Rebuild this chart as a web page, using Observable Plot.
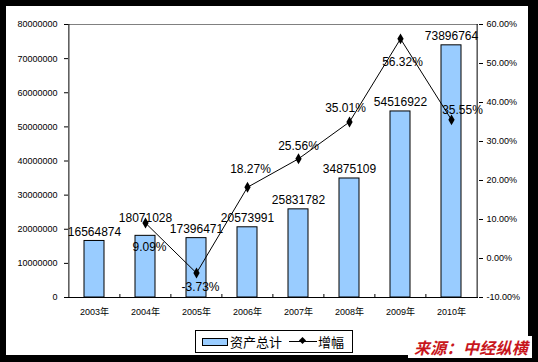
<!DOCTYPE html>
<html>
<head>
<meta charset="utf-8">
<script src="https://cdn.jsdelivr.net/npm/d3@7"></script>
<script src="https://cdn.jsdelivr.net/npm/@observablehq/plot@0.6"></script>
<style>
  html, body { margin: 0; padding: 0; background: #fff; }
  #wrap { position: relative; width: 538px; height: 362px; overflow: hidden; background: #fff;
          font-family: "Liberation Sans", Arial, "Noto Sans CJK SC", sans-serif; }
  #wrap svg { position: absolute; left: 0; top: 0; }
  #border { position: absolute; left: 0; top: 0; width: 538px; height: 362px; box-sizing: border-box;
            border-style: solid; border-color: #000; border-width: 6px 10px 7px 6px; pointer-events: none; }
  #legend { position: absolute; left: 195px; top: 330px; width: 158px; height: 23px; box-sizing: border-box;
            border: 1.5px solid #000; background: #fff; display: flex; align-items: center;
            font-family: "Noto Sans CJK SC", sans-serif; font-size: 13px; color: #000; white-space: nowrap; }
  #legend .sw { display: inline-block; width: 24px; height: 6px; background: #99CCFF; border: 1px solid #000; margin-left: 6px; margin-right: 2px; }
  #legend .ln { display: inline-block; position: relative; width: 28px; height: 1px; background: #000; margin-left: 7px; margin-right: 1px; }
  #legend .ln i { position: absolute; left: 11px; top: -3px; width: 5px; height: 5px; background: #000; transform: rotate(45deg); }
  #mark { position: absolute; left: 408px; top: 336px; width: 124px; height: 22px; background: #fff;
          font-family: "Noto Sans CJK SC", sans-serif; font-weight: bold; font-style: italic; font-size: 16px;
          color: #c8161d; line-height: 22px; padding-left: 6px; box-sizing: border-box; white-space: nowrap; letter-spacing: 0.3px; }
</style>
</head>
<body>
<div id="wrap">
  <div id="chart"></div>
  <div id="border"></div>
  <div id="legend"><span class="sw"></span>资产总计<span class="ln"><i></i></span>增幅</div>
  <div id="mark">来源：中经纵横</div>
</div>
<script>
// ---- data ----
const years = ["2003", "2004", "2005", "2006", "2007", "2008", "2009", "2010"];
const totalAssets = [16564874, 18071028, 17396471, 20573991, 25831782, 34875109, 54516922, 73896764];
const growthPct = [null, 9.09, -3.73, 18.27, 25.56, 35.01, 56.32, 35.55];
const leftTicks = [0, 10000000, 20000000, 30000000, 40000000, 50000000, 60000000, 70000000, 80000000];
const rightTicks = [-10, 0, 10, 20, 30, 40, 50, 60];
const yearSuffix = "年";
const seriesNames = ["资产总计", "增幅"];

// ---- layout ----
const W = 538, H = 362;
const mL = 68, mR = 60, mT = 24, mB = 65;
const leftMax = 80000000, pMin = -10, pMax = 60;
const toLeft = p => (p - pMin) / (pMax - pMin) * leftMax;
const fromLeft = v => v / leftMax * (pMax - pMin) + pMin;
const step = (W - mL - mR) / years.length;
const font = "'Liberation Sans', Arial, 'Noto Sans CJK SC', sans-serif";

const bars = years.map((y, i) => ({year: y, v: totalAssets[i]}));
const pts = years.map((y, i) => ({year: y, p: growthPct[i]})).filter(d => d.p != null);

// label offsets (layout only)
const barLabelDy = {"2004": -18};
const pctLabelOff = {
  "2004": [4, 24], "2005": [4, 14], "2006": [3, -18], "2007": [0, -13],
  "2008": [-4, -14], "2009": [2, 23], "2010": [11, -10]
};

const marks = [
  Plot.barY(bars, {x: "year", y: "v", fill: "#99CCFF", stroke: "#000", strokeWidth: 1}),
  Plot.ruleY([leftMax], {stroke: "#808080", strokeWidth: 1}),
  Plot.ruleY([0], {stroke: "#000", strokeWidth: 1}),
  Plot.ruleX([years[0]], {dx: -step / 2, stroke: "#000", strokeWidth: 1}),
  Plot.ruleX([years[years.length - 1]], {dx: step / 2, stroke: "#000", strokeWidth: 1}),
  Plot.ruleX(years.slice(1), {dx: -step / 2, stroke: "#000", strokeWidth: 1, insetTop: H - mT - mB - 3}),
  Plot.axisY(leftTicks, {anchor: "left", label: null, tickSize: 4, tickPadding: 7, fontSize: 9, tickFormat: d => String(d), fill: "#000", stroke: "#000"}),
  Plot.axisY(rightTicks.map(toLeft), {anchor: "right", label: null, tickSize: 4, tickPadding: 4, fontSize: 9, tickFormat: v => fromLeft(v).toFixed(2) + "%", fill: "#000", stroke: "#000"}),
  Plot.axisX({label: null, tickSize: 0, tickPadding: 11, fontSize: 9, tickFormat: d => d + yearSuffix, fill: "#000"}),
  Plot.line(pts, {x: "year", y: d => toLeft(d.p), stroke: "#000", strokeWidth: 1}),
  Plot.dot(pts, {x: "year", y: d => toLeft(d.p), symbol: "diamond", r: 3.3, fill: "#000", stroke: "none"})
];

// bar value labels
for (const b of bars) {
  marks.push(Plot.text([b], {x: "year", y: "v", text: d => String(d.v), dy: barLabelDy[b.year] ?? -9,
    lineAnchor: "middle", fontSize: 12, fill: "#000", fontFamily: font}));
}
// growth labels
for (const p of pts) {
  const o = pctLabelOff[p.year] || [0, -12];
  marks.push(Plot.text([p], {x: "year", y: d => toLeft(d.p), text: d => d.p.toFixed(2) + "%", dx: o[0], dy: o[1],
    lineAnchor: "middle", fontSize: 12, fill: "#000", fontFamily: font}));
}

const chart = Plot.plot({
  width: W, height: H,
  marginLeft: mL, marginRight: mR, marginTop: mT, marginBottom: mB,
  style: {background: "#fff", fontFamily: font, color: "#000", overflow: "visible"},
  x: {type: "band", domain: years, paddingInner: 0.6, paddingOuter: 0.3, axis: null, label: null},
  y: {domain: [0, leftMax], axis: null, label: null},
  marks
});
document.getElementById("chart").appendChild(chart);
</script>
</body>
</html>
